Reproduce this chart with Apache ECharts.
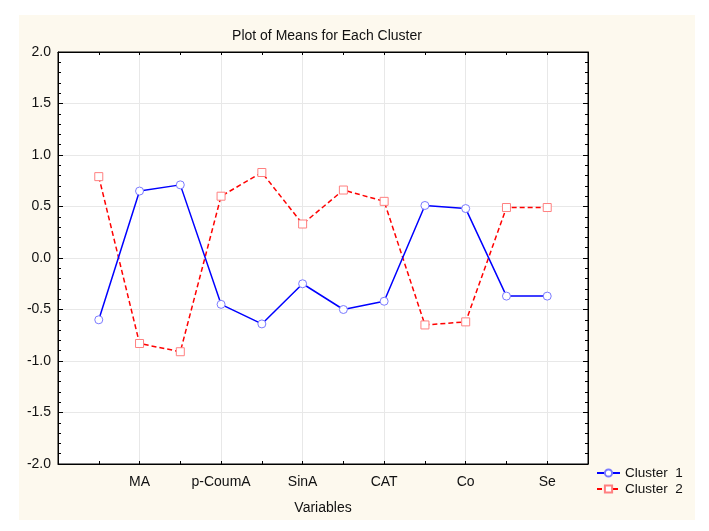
<!DOCTYPE html>
<html><head><meta charset="utf-8">
<script src="https://cdn.jsdelivr.net/npm/echarts@6/dist/echarts.min.js"></script>
<style>html,body{margin:0;padding:0;background:#fff}#c{width:709px;height:531px}</style>
</head><body><div id="c"></div>
<script>
const categories = ['', 'MA', '', 'p-CoumA', '', 'SinA', '', 'CAT', '', 'Co', '', 'Se'];
const cluster1 = [-0.60, 0.65, 0.71, -0.45, -0.64, -0.25, -0.50, -0.42, 0.51, 0.48, -0.37, -0.37];
const cluster2 = [0.79, -0.83, -0.91, 0.60, 0.83, 0.33, 0.66, 0.55, -0.65, -0.62, 0.49, 0.49];
const yTicks = [-2.0, -1.5, -1.0, -0.5, 0.0, 0.5, 1.0, 1.5, 2.0];

const chart = echarts.init(document.getElementById('c'), null, {renderer: 'canvas'});
const font = 'Liberation Sans, Arial, sans-serif';
const pts = arr => arr.map((v, i) => [i + 1, v]);
const grid = {left: 58, top: 52, right: 121, bottom: 67, show: true, backgroundColor: '#fff', borderColor: '#000', borderWidth: 1, containLabel: false};
const line = {show: true, onZero: false, lineStyle: {color: '#000'}};

chart.setOption({
  animation: false,
  graphic: [{type: 'rect', z: -10, shape: {x: 19, y: 15, width: 676, height: 505}, style: {fill: '#fdf9ee'}}],
  title: {text: 'Plot of Means for Each Cluster', left: 322, textAlign: 'center', top: 24,
    textStyle: {fontFamily: font, fontSize: 14, fontWeight: 'normal', color: '#111'}},
  grid: grid,
  legend: {orient: 'vertical', left: 591, top: 461, itemWidth: 23, itemHeight: 9, itemGap: 2,
    textStyle: {fontFamily: font, fontSize: 13.5, color: '#111'},
    data: ['Cluster  1', 'Cluster  2']},
  xAxis: [
    {type: 'value', min: 0, max: 13, interval: 1, position: 'bottom',
      name: 'Variables', nameLocation: 'middle', nameGap: 37,
      nameTextStyle: {fontFamily: font, fontSize: 14, color: '#111'},
      axisLine: line,
      axisTick: {show: true, inside: true, length: 3, lineStyle: {color: '#000'}},
      axisLabel: {fontFamily: font, fontSize: 14, color: '#111', margin: 11,
        formatter: v => categories[v - 1] || ''},
      splitLine: {show: false}},
    {type: 'value', min: 0, max: 13, interval: 2, position: 'bottom',
      axisLine: {show: false, onZero: false}, axisTick: {show: false}, axisLabel: {show: false},
      splitLine: {show: true, lineStyle: {color: '#e8e8e8'}}},
    {type: 'value', min: 0, max: 13, interval: 1, position: 'top',
      axisLine: line,
      axisTick: {show: true, inside: true, length: 3, lineStyle: {color: '#000'}},
      axisLabel: {show: false}, splitLine: {show: false}}
  ],
  yAxis: [
    {type: 'value', min: -2, max: 2, interval: 0.5, position: 'left',
      axisLine: line,
      axisTick: {show: true, inside: true, length: 5, lineStyle: {color: '#000'}},
      minorTick: {show: true, splitNumber: 5, length: 3, lineStyle: {color: '#000'}},
      axisLabel: {fontFamily: font, fontSize: 14, color: '#111', margin: 7,
        formatter: v => (yTicks.includes(v) ? v.toFixed(1) : '')},
      splitLine: {show: true, lineStyle: {color: '#e8e8e8'}}},
    {type: 'value', min: -2, max: 2, interval: 0.5, position: 'right',
      axisLine: line,
      axisTick: {show: true, inside: true, length: 5, lineStyle: {color: '#000'}},
      minorTick: {show: true, splitNumber: 5, length: 3, lineStyle: {color: '#000'}},
      axisLabel: {show: false}, splitLine: {show: false}}
  ],
  series: [
    {name: 'Cluster  1', type: 'line', data: pts(cluster1), symbol: 'circle', symbolSize: 8,
      lineStyle: {color: '#0000ff', width: 1.5},
      itemStyle: {color: '#fff', borderColor: '#7a7aff', borderWidth: 1}, z: 3},
    {name: 'Cluster  2', type: 'line', data: pts(cluster2), symbol: 'rect', symbolSize: 8,
      lineStyle: {color: '#ff0000', width: 1.5, type: [5, 3]},
      itemStyle: {color: '#fff', borderColor: '#ff8080', borderWidth: 1}, z: 2}
  ]
});
</script></body></html>
